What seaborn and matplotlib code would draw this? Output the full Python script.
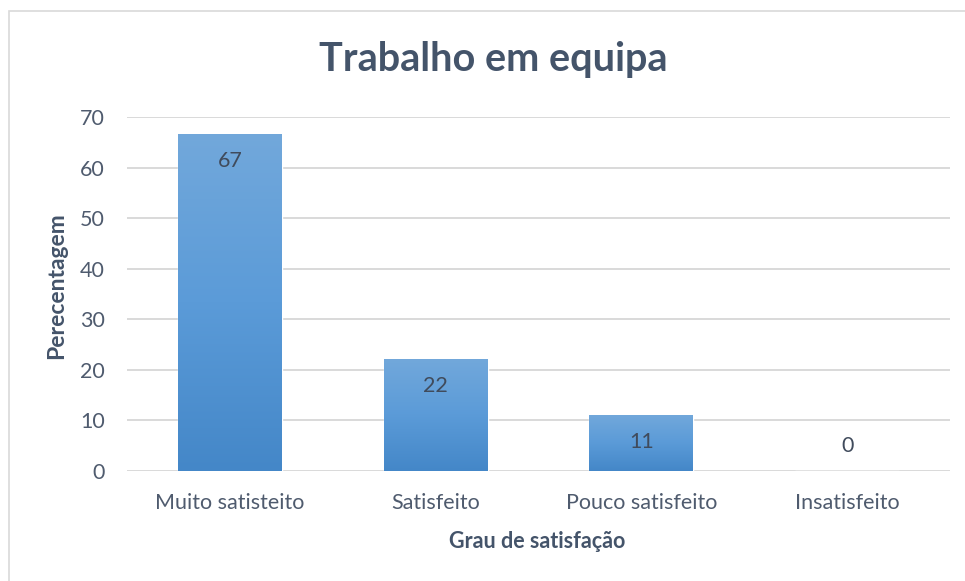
import numpy as np
import pandas as pd
import matplotlib
matplotlib.use("Agg")
import matplotlib.pyplot as plt
import seaborn as sns
from matplotlib.colors import LinearSegmentedColormap
from matplotlib.patches import Rectangle

categories = ["Muito satisteito", "Satisfeito", "Pouco satisfeito", "Insatisfeito"]
values = [66.7, 22.2, 11.1, 0.0]
labels = ["67", "22", "11", "0"]
yticks = [0, 10, 20, 30, 40, 50, 60, 70]
title = "Trabalho em equipa"
xlabel = "Grau de satisfação"
ylabel = "Perecentagem"

sns.set_style("white")
plt.rcParams['font.family'] = ['Lato', 'DejaVu Sans']

text_col = "#44546A"
tick_col = "#4F5B6E"

fig = plt.figure(figsize=(9.65, 5.81), dpi=100)
W, H = 965, 581
ax = fig.add_axes([127 / W, 1 - 471 / H, (950 - 127) / W, (471 - 117) / H])

df = pd.DataFrame({"cat": categories, "val": values})
sns.barplot(data=df, x="cat", y="val", ax=ax, width=0.505, color="#5B9BD5",
            saturation=1, zorder=2)

ax.set_ylim(0, 70)
ax.set_xlim(-0.5, 3.5)
ax.set_yticks(yticks)
ax.yaxis.grid(True, color="#D9D9D9", linewidth=1.4, zorder=0)
ax.set_axisbelow(True)
for s in ax.spines.values():
    s.set_visible(False)
ax.tick_params(axis="both", length=0, labelsize=15.5, colors=tick_col)
ax.tick_params(axis="x", pad=16)
ax.tick_params(axis="y", pad=16)

# gradient fill
cmap = LinearSegmentedColormap.from_list("g", ["#4487C8", "#5B9BD8", "#72A8DB"])
grad = np.linspace(0, 1, 256).reshape(-1, 1)
for p in ax.patches:
    x0, y0 = p.get_x(), p.get_y()
    w, h = p.get_width(), p.get_height()
    if h <= 0:
        continue
    im = ax.imshow(grad, extent=[x0, x0 + w, y0, y0 + h], origin="lower",
                   cmap=cmap, aspect="auto", zorder=3)
    im.set_clip_path(p)
    p.set_facecolor("none")
ax.set_xlim(-0.5, 3.5)
ax.set_ylim(0, 70)

for i, (v, lab) in enumerate(zip(values, labels)):
    if v > 0:
        ax.text(i, v - 5.4, lab, ha="center", va="center", fontsize=15.5,
                color="#404B5C", zorder=4)
    else:
        ax.text(i, 5.0, lab, ha="center", va="center", fontsize=15.5,
                color="#404B5C", zorder=4)

ax.set_xlabel("")
ax.set_ylabel("")
fig.text(537 / W, 1 - 541 / H, xlabel, ha="center", va="center",
         fontsize=15.5, fontweight="bold", color=text_col)
fig.text(57 / W, 1 - 286 / H, ylabel, ha="center", va="center", rotation=90,
         fontsize=16.5, fontweight="bold", color=text_col)
fig.text(493 / W, 1 - 60 / H, title, ha="center", va="center",
         fontsize=28.5, fontweight="bold", color=text_col)

# outer frame
fig.patches.append(Rectangle((9 / W, -0.1), 1.2, 1 - 11 / H + 0.1,
                             transform=fig.transFigure, fill=False,
                             edgecolor="#D9D9D9", linewidth=1.2))

fig.savefig("out.png", dpi=100)
